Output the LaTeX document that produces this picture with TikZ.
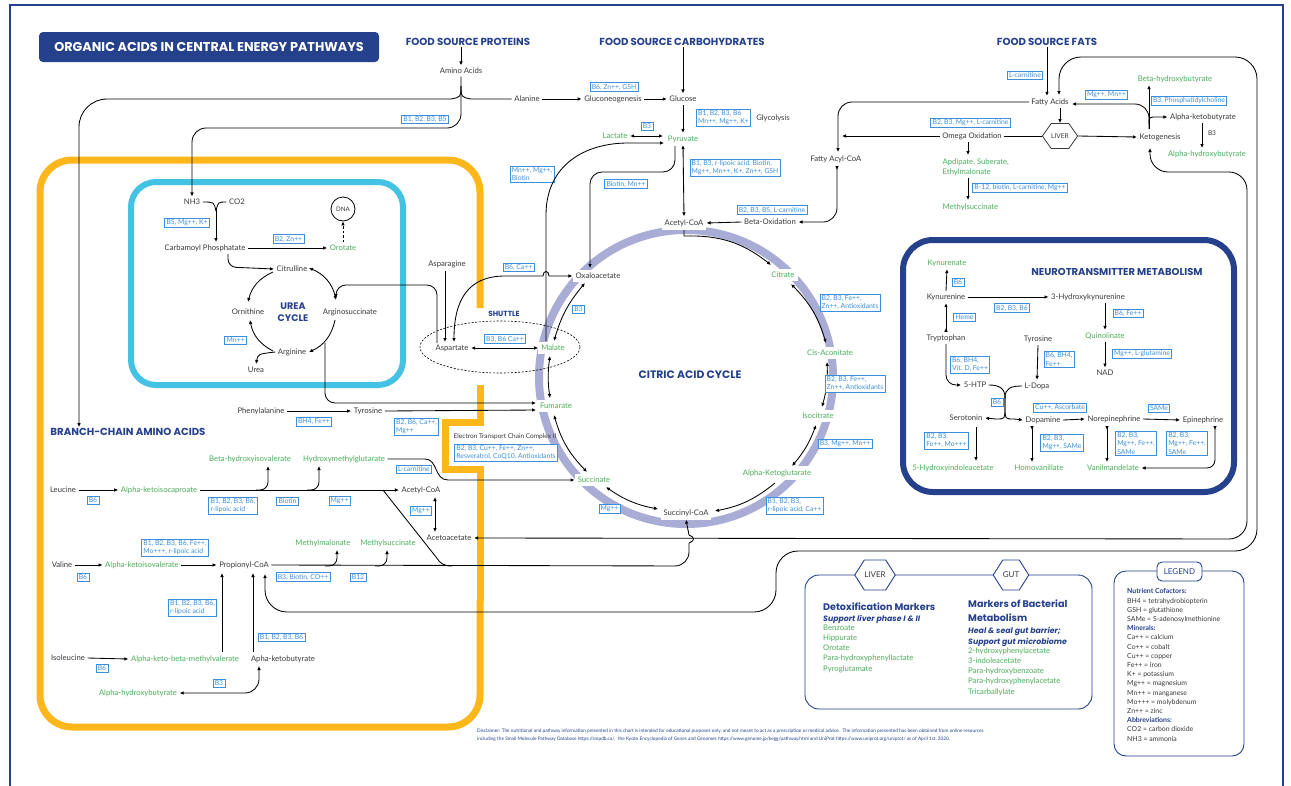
\documentclass[tikz,border=0pt]{standalone}
\usepackage{fontspec}
\setmainfont{Lato}
\newfontfamily\headfont{Poppins}
\usetikzlibrary{arrows.meta,shapes.geometric,shapes.symbols,calc}
\definecolor{dblue}{HTML}{25418B}
\definecolor{cyanb}{HTML}{44C2E4}
\definecolor{orng}{HTML}{FDB71A}
\definecolor{lav}{HTML}{A9ADD6}
\definecolor{tgreen}{HTML}{4DAE5B}
\definecolor{cblue}{HTML}{3B8FDC}
\definecolor{tgray}{HTML}{3A3A3A}
\newcommand\myfs[2]{\fontsize{#1}{#2}\selectfont}
\tikzset{
  lbl/.style={font=\myfs{7.7}{9}, text=tgray, inner sep=2.5pt},
  grn/.style={lbl, text=tgreen},
  cac/.style={grn, fill=white, inner sep=3pt},
  cacg/.style={lbl, fill=white, inner sep=3pt},
  cof/.style={draw=cblue, line width=0.7pt, text=cblue, fill=white, font=\myfs{6.8}{8.2}, inner xsep=1.8pt, inner ysep=1.4pt, align=left},
  arw/.style={-{Latex[length=4pt,width=3.6pt]}, line width=0.85pt},
  darw/.style={{Latex[length=4pt,width=3.6pt]}-{Latex[length=4pt,width=3.6pt]}, line width=0.85pt},
  rarw/.style={{Latex[reversed,length=4pt,width=3.6pt]}-{Latex[length=4pt,width=3.6pt]}, line width=0.85pt},
  ln/.style={line width=0.85pt},
  hd/.style={font=\headfont\bfseries\myfs{10.2}{12}, text=dblue, inner sep=1pt},
  sect/.style={font=\headfont\bfseries\myfs{10}{12}, text=dblue, align=center, inner sep=1pt},
  hexa/.style={draw=dblue, line width=0.9pt, fill=white, signal, signal to=west and east, signal pointer angle=115, minimum width=34, minimum height=30, inner sep=0pt, text=tgray, font=\myfs{8}{9}},
}
\begin{document}
\begin{tikzpicture}[x=1pt,y=-1pt]
\useasboundingbox (0,0) rectangle (1291,785);
\fill[white] (0,0) rectangle (1291,785);
\draw[dblue, line width=2.5] (10,5) rectangle (1283,800);
% frames
\draw[orng, line width=7, rounded corners=32] (480,308) -- (480,160) -- (40,160) -- (40,727) -- (480,727) -- (480,600);
\draw[orng, line width=7] (480,601) -- (480,469) -- (445,469) -- (445,422) -- (480,422) -- (480,385);
\draw[cyanb, line width=6, rounded corners=25] (131,182) rectangle (403,385);
\draw[dblue, line width=6, rounded corners=30] (903,240) rectangle (1234,492);
\draw[lav, line width=8] (686,377) circle[radius=147pt];

% title and headings
\node[fill=dblue, rounded corners=4, minimum width=340, minimum height=30, text=white, font=\headfont\bfseries\myfs{12.8}{14}] (title) at (209,47) {ORGANIC ACIDS IN CENTRAL ENERGY PATHWAYS};
\node[hd] (fsp) at (468,42) {FOOD SOURCE PROTEINS};
\node[hd] (fsc) at (682,42) {FOOD SOURCE CARBOHYDRATES};
\node[hd] (fsf) at (1047,42) {FOOD SOURCE FATS};
\node[hd] (bca) at (128,432) {BRANCH-CHAIN AMINO ACIDS};
\node[sect, font=\headfont\bfseries\myfs{9.5}{12}] (ucyc) at (293,312) {UREA\\CYCLE};
\node[sect, font=\headfont\bfseries\myfs{7.4}{8}] (shut) at (504,314) {SHUTTLE};
\node[sect, font=\headfont\bfseries\myfs{10.8}{12}] (cact) at (690,375) {CITRIC ACID CYCLE};
\node[sect] (neut) at (1117,272) {NEUROTRANSMITTER METABOLISM};

% proteins
\node[lbl] (amino) at (461,71) {Amino Acids};
\draw[arw] (fsp.south -| amino) -- (amino.north);
\node[lbl] (ala) at (527,99) {Alanine};
\node[lbl] (glu) at (613,99) {Gluconeogenesis};
\node[lbl] (gluc) at (683,99) {Glucose};
\node[cof] (c1) at (425,119.5) {B1, B2, B3, B5};
\node[cof] (c2) at (614,87) {B6, Zn++, GSH};
\draw[ln] (461,86) .. controls (461,97) .. (451,99);
\draw[arw, rounded corners=28] (451,99) -- (79,99) -- (bca.north -| 79,0);
\draw[ln] (461,86) .. controls (461,97) .. (471,99) -- (ala.west);
\draw[arw] (ala.east) -- (glu.west);
\draw[arw] (glu.east) -- (gluc.west);

% urea cycle
\node[lbl] (nh3) at (192,202) {NH3};
\node[lbl] (co2) at (237,202) {CO2};
\draw[arw, rounded corners=14] (amino.south) -- (461,128) -- (192,128) -- (nh3.north);
\node[lbl] (carb) at (205,248) {Carbamoyl Phosphatate};
\node[cof] (c3) at (187,222.5) {B5, Mg++, K+};
\draw[ln] (nh3.east) .. controls (214,202) .. (216,211);
\draw[ln] (co2.west) .. controls (218,202) .. (216,211);
\draw[arw] (216,210) -- (216,242);
\node[grn] (oro) at (343,248) {Orotate};
\node[cof] (c4) at (288.5,239) {B2, Zn++};
\draw[arw] (carb.east) -- (oro.west);
\node[circle, draw, line width=0.8pt, minimum size=24, inner sep=0pt, font=\myfs{6.2}{7}, text=tgray] (dna) at (343,209) {DNA};
\draw[arw, dashed, dash pattern=on 2.5pt off 2pt] (oro.north) -- (dna.south);
\node[lbl] (cit) at (292,269) {Citrulline};
\node[lbl] (orn) at (248,312) {Ornithine};
\node[lbl] (asuc) at (350,312) {Arginosuccinate};
\node[lbl] (arg) at (292,352) {Arginine};
\node[lbl] (urea) at (256,370) {Urea};
\node[cof] (c5) at (235.5,340.5) {Mn++};
\draw[arw, rounded corners=8] (228,254) -- (228,267) -- (cit.west);
\draw[arw] (273,272) to[bend right=26] (248,302);
\draw[arw] (273,351) to[bend left=26] (250,320);
\draw[arw] (335,320) to[bend left=27] (309,352);
\draw[darw] (309,268) to[bend left=28] (336,300);
\draw[arw] (arg.west) .. controls (258,354) .. (256,364);
\draw[arw, rounded corners=10] (437,343) -- (437,285) -- (336,285) -- (336,298);
\draw[arw, rounded corners=10] (325,343) -- (325,403) -- (536,403);

% shuttle
\draw[dashed, dash pattern=on 2pt off 1.6pt, line width=0.6pt] (500,347) ellipse [x radius=80pt, y radius=26pt];
\node[lbl] (asn) at (447,264) {Asparagine};
\node[lbl] (asp) at (452,348) {Aspartate};
\node[cac] (mal) at (553,348) {Malate};
\draw[arw] (445,271) -- (445,342);
\draw[darw] (asp.east) -- (mal.west);
\node[cof] (c6) at (505,339) {B3, B6 Ca++};
\node[cof] (c7) at (518.5,267.5) {B6, Ca++};

% phenylalanine
\node[lbl] (phe) at (261,411) {Phenylalanine};
\node[lbl] (tyr) at (368,411) {Tyrosine};
\node[cof] (c8) at (314,422) {BH4, Fe++};
\node[cof] (c9) at (416.5,426.5) {B2, B6, Ca++,\\Mg++};
\draw[arw] (phe.east) -- (tyr.west);
\draw[arw] (tyr.east) -- (536,410);

% carbohydrates
\node[grn] (pyr) at (683,139) {Pyruvate};
\node[grn] (lac) at (615,136) {Lactate};
\node[lbl] (glyc) at (773,118) {Glycolysis};
\draw[arw] (gluc |- fsc.south) -- (gluc.north);
\draw[arw] (gluc.south) -- (pyr.north);
\node[cof] (c10) at (723.5,117.5) {B1, B2, B3, B6\\Mn++, Mg++, K+};
\draw[darw] (lac.east) -- (663,136);
\node[cof] (c11) at (647,126) {B3};
\node[cof] (c12) at (532,174) {Mn++, Mg++,\\Biotin};
\node[cof] (c13) at (626,184) {Biotin, Mn++};
\node[cof] (c14) at (735,168) {B1, B3, r-lipoic acid, Biotin,\\Mg++, Mn++, K+, Zn++, GSH};

% citric acid cycle nodes
\node[cacg] (acoa) at (684,223) {Acetyl-CoA};
\node[cac] (citr) at (783,275) {Citrate};
\node[cac] (cis) at (830,353) {Cis-Aconitate};
\node[cac] (iso) at (818,416) {Isocitrate};
\node[cac] (akg) at (777,473) {Alpha-Ketoglutarate};
\node[cacg] (scoa) at (686,513) {Succinyl-CoA};
\node[cac] (succ) at (594,480) {Succinate};
\node[cac] (fum) at (556,406) {Fumarate};
\node[cacg] (oaa) at (598,276) {Oxaloacetate};

\draw[arw] (546,341) -- (546,215) .. controls (546,165) and (585,143) .. (628,143) -- (664,143);
\draw[arw, rounded corners=12] (675,146) -- (675,172) -- (590,172) -- (590,268);
\draw[darw] (pyr.south) -- (acoa.north);
\node[lbl] (beta) at (770,222) {Beta-Oxidation};
\draw[arw] (beta.west) -- (acoa.east);
\node[cof] (c15) at (772,210) {B2, B3, B5, L-carnitine};
\draw[darw] (454,342) .. controls (454,300) and (468,276) .. (505,276) -- (543,276) .. controls (543,270) and (549,270) .. (549,276) -- (oaa.west);

\draw[arw] (684,230) -- (684,236) to[bend left=20] (771,265);
\draw[darw] (791,284) to[bend left=14] (826,343);
\draw[darw] (827,362) to[bend left=9] (822,407);
\draw[darw] (816,425) to[bend left=10] (792,466);
\draw[arw] (775,483) to[bend left=14] (715,511);
\draw[darw] (658,509) to[bend left=12] (606,487);
\draw[darw] (587,472) to[bend left=14] (554,415);
\draw[darw] (550,398) to[bend left=8] (550,356);
\draw[darw] (554,341) to[bend left=12] (585,283);
\node[cof] (c16) at (578.5,309.5) {B3};
\node[cof] (c17) at (850,302.5) {B2, B3, Fe++,\\Zn++, Antioxidants};
\node[cof] (c18) at (855,383.5) {B2, B3, Fe++,\\Zn++, Antioxidants};
\node[cof] (c19) at (845,444) {B3, Mg++, Mn++};
\node[cof] (c20) at (794.5,505.5) {B1, B2, B3,\\r-lipoic acid, Ca++};
\node[cof] (c21) at (609.5,509) {Mg++};
\node[lbl, font=\myfs{6.5}{7.5}] (etc) at (505,437) {Electron Transport Chain Complex II};
\node[cof] (c22) at (506,452.5) {B2, B3, Cu++, Fe++, Zn++,\\Resveratrol, CoQ10, Antioxidants};

% branch chain amino acids
\node[lbl] (leu) at (63,490) {Leucine};
\node[grn] (akic) at (159,490) {Alpha-ketoisocaproate};
\node[lbl] (acoa2) at (421,490) {Acetyl-CoA};
\node[grn] (bhiv) at (250,459) {Beta-hydroxyisovalerate};
\node[grn] (hmg) at (344,459) {Hydroxymethylglutarate};
\node[lbl] (acac) at (449,538) {Acetoacetate};
\draw[arw] (leu.east) -- (akic.west);
\draw[arw] (akic.east) -- (acoa2.west);
\draw[arw, rounded corners=8] (256,490) -| (268,466);
\draw[arw, rounded corners=8] (307,490) -| (319,466);
\draw[arw] (hmg.east) -- (425,459) .. controls (438,459) and (434,480) .. (448,480) -- (succ.west);
\draw[ln] (383,490) -- (436,557) .. controls (440,563) and (443,566) .. (452,566);
\draw[darw] (435,497) -- (435,532);
\node[cof] (c23) at (93,500) {B6};
\node[cof] (c24) at (233,505.5) {B1, B2, B3, B6,\\r-lipoic acid};
\node[cof] (c25) at (287.5,501) {Biotin};
\node[cof] (c26) at (339.5,501) {Mg++};
\node[cof] (c27) at (414,469.5) {L-carnitine};
\node[cof] (c28) at (421,511) {Mg++};

\node[lbl] (val) at (62,565) {Valine};
\node[grn] (akiv) at (142,565) {Alpha-ketoisovalerate};
\node[lbl] (prop) at (244,565) {Propionyl-CoA};
\draw[arw] (val.east) -- (akiv.west);
\draw[arw] (akiv.east) -- (prop.west);
\node[cof] (c29) at (83,577) {B6};
\node[cof] (c30) at (175,548) {B1, B2, B3, B6, Fe++,\\Mo+++, r-lipoic acid};
\node[grn] (mmal) at (323,543) {Methylmalonate};
\node[grn] (msuc2) at (388,543) {Methylsuccinate};
\draw[ln, rounded corners=14] (prop.east) -- (689,566) -- (689,543);
\draw[arw] (689,543) .. controls (695,541) and (695,537) .. (689,535) -- (scoa.south);
\draw[arw, rounded corners=8] (325,566) -| (337,550);
\draw[arw, rounded corners=8] (375,566) -| (387,550);
\node[cof] (c31) at (303,577) {B3, Biotin, CO++};
\node[cof] (c32) at (358,577) {B12};

\node[lbl] (ile) at (68,658) {Isoleucine};
\node[grn] (akbmv) at (185,659) {Alpha-keto-beta-methylvalerate};
\node[lbl] (akb) at (283,659) {Apha-ketobutyrate};
\node[grn] (ahb) at (138,693) {Alpha-hydroxybutyrate};
\draw[arw] (ile.east) -- (akbmv.west);
\draw[arw] (222,652) -- (222,573);
\draw[arw] (253,652) -- (253,573);
\draw[darw, rounded corners=14] (259,666) |- (ahb.east);
\node[cof] (c33) at (102,668) {B6};
\node[cof] (c34) at (192.5,607.5) {B1, B2, B3, B6,\\r-lipoic acid};
\node[cof] (c35) at (281.5,637.5) {B1, B2, B3, B6};
\node[cof] (c36) at (219,683) {B3};

% fats
\node[lbl] (fa) at (1050,102) {Fatty Acids};
\node[cof] (c37) at (1025,75) {L-carnitine};
\draw[arw] (fsf.south) -- (fsf.south |- fa.north);
\node[draw=tgray, line width=0.8pt, fill=white, signal, signal to=west and east, signal pointer angle=110, minimum width=28, minimum height=25, inner sep=0pt, text=tgray, font=\myfs{6.6}{7}] (liver) at (1060,136) {LIVER};
\draw[arw] (liver.north |- fa.south) -- (liver.north);
\node[lbl] (omega) at (972,136) {Omega Oxidation};
\node[lbl] (facoa) at (836,159) {Fatty Acyl-CoA};
\node[lbl] (keto) at (1160,137) {Ketogenesis};
\draw[ln] (liver.west) -- (omega.east);
\draw[arw] (omega.west) -- (842,136);
\draw[arw, rounded corners=14] (fa.west) -| (838,152);
\draw[arw] (liver.east) -- (keto.west);
\draw[rarw, rounded corners=14] (837,166) |- (beta.east);
\node[cof] (c38) at (970.5,122.5) {B2, B3, Mg++, L-carnitine};
\node[grn, anchor=north west, align=left, font=\myfs{7.7}{10}] (apd) at (940,156) {Apdipate, Suberate,\\Ethylmalonate};
\node[grn, anchor=west] (msuc) at (940,207) {Methylsuccinate};
\draw[arw] (968,142) -- (968,155);
\draw[arw] (968,178) -- (968,200);
\node[cof] (c39) at (1020,187.5) {B-12, biotin, L-carnitine, Mg++};
\node[cof] (c40) at (1106.5,95) {Mg++, Mn++};
\node[grn] (bhb) at (1175,79) {Beta-hydroxybutyrate};
\node[lbl] (akb2) at (1203,117) {Alpha-ketobutyrate};
\node[grn] (ahb2) at (1207,154) {Alpha-hydroxybutyrate};
\draw[arw, rounded corners=14] (1149,129) -- (1149,104) -- (1072,104);
\draw[arw] (1149,129) -- (bhb.south -| 1149,0);
\draw[arw] (1149,124) .. controls (1149,117) .. (1157,117) -- (akb2.west);
\draw[arw] (1202,123) -- (1202,148);
\node[lbl, font=\myfs{6.5}{7}] (b3l) at (1212,133) {B3};
\node[cof] (c41) at (1189,101) {B3, Phosphatidylcholine};

% big loops
\draw[darw, rounded corners=22] (1059,95) -- (1059,57) -- (1257,57) -- (1257,551) -- (776,551) -- (776,612) -- (265,612) -- (265,574);
\draw[darw, rounded corners=18] (1150,148) -- (1150,172) -- (1247,172) -- (1247,539) -- (acac.east);

% neurotransmitters
\node[grn] (kyna) at (947,263) {Kynurenate};
\node[lbl] (kyn) at (946,297) {Kynurenine};
\node[lbl] (hk) at (1088,297) {3-Hydroxykynurenine};
\node[lbl] (trp) at (946,338) {Tryptophan};
\node[lbl] (tyrn) at (1038,339) {Tyrosine};
\node[grn] (quin) at (1105,336) {Quinolinate};
\node[lbl] (nad) at (1105,373) {NAD};
\node[lbl] (htp) at (975,385) {5-HTP};
\node[lbl] (ldopa) at (1037,386) {L-Dopa};
\node[lbl] (sero) at (966,418) {Serotonin};
\node[lbl] (dop) at (1043,420) {Dopamine};
\node[lbl] (nor) at (1114,419) {Norepinephrine};
\node[lbl] (epi) at (1203,420) {Epinephrine};
\node[grn] (hiaa) at (953,468) {5-Hydroxyindoleacetate};
\node[grn] (hva) at (1039,468) {Homovanillate};
\node[grn] (vma) at (1113,468) {Vanilmandelate};
\draw[arw] (kyn.north) -- (kyna.south);
\draw[arw] (kyn.east) -- (hk.west);
\draw[rarw] (trp.north) -- (kyn.south);
\draw[arw, rounded corners=10] (trp.south) |- (htp.west);
\draw[arw] (tyrn.south) -- (ldopa.north);
\draw[arw] (quin.north |- hk.south) -- (quin.north);
\draw[arw] (quin.south) -- (nad.north);
\draw[ln] (htp.east) .. controls (999,385) and (1005,388) .. (1005,398);
\draw[ln] (ldopa.west) .. controls (1011,386) and (1005,388) .. (1005,398);
\draw[arw] (1005,397) -- (1005,408) .. controls (1005,419) .. (996,419) -- (sero.east);
\draw[arw] (1005,397) -- (1005,408) .. controls (1005,419) .. (1014,419) -- (dop.west);
\draw[arw] (dop.east) -- (nor.west);
\draw[arw] (nor.east) -- (epi.west);
\draw[arw] (976,427) -- (976,461);
\draw[rarw] (1032,426) -- (1032,462);
\draw[rarw] (1107,426) -- (1107,462);
\draw[rarw, rounded corners=8] (1215,426) |- (vma.east);
\node[cof] (n1) at (958,282.5) {B6};
\node[cof] (n2) at (1012,308) {B2, B3, B6};
\node[cof] (n3) at (964.5,317) {Heme};
\node[cof] (n4) at (970,364.5) {B6, BH4,\\Vit. D, Fe++};
\node[cof] (n5) at (1059,359.5) {B6, BH4,\\Fe++};
\node[cof] (n6) at (1128,313.5) {B6, Fe++};
\node[cof] (n7) at (1142,353.5) {Mg++, L-glutamine};
\node[cof] (n8) at (997,402.5) {B6};
\node[cof] (n9) at (1060,407.5) {Cu++, Ascorbate};
\node[cof] (n10) at (1159,408) {SAMe};
\node[cof] (n11) at (946.5,440.5) {B2, B3,\\Fe++, Mo+++};
\node[cof] (n12) at (1062,443) {B2, B3,\\Mg++, SAMe};
\node[cof] (n13) at (1136,443.5) {B2, B3,\\Mg++, Fe++,\\SAMe};
\node[cof] (n14) at (1187,443.5) {B2, B3,\\Mg++, Fe++,\\SAMe};

% liver / gut panel
\draw[dblue, line width=0.9pt, rounded corners=14] (805,575) rectangle (1092,709);
\node[hexa] (hliv) at (875,575) {LIVER};
\node[hexa] (hgut) at (1011,575) {GUT};
\node[anchor=west, font=\headfont\bfseries\myfs{9.6}{11}, text=dblue, inner sep=0] (detox) at (823,607) {Detoxification Markers};
\node[anchor=west, font=\headfont\bfseries\itshape\myfs{7.8}{9}, text=dblue, inner sep=0] (supl) at (823,619) {Support liver phase I \& II};
\node[anchor=north west, align=left, font=\myfs{7.7}{10.2}, text=tgreen, inner sep=0] (livl) at (823,624.5) {Benzoate\\Hippurate\\Orotate\\Para-hydroxyphenyllactate\\Pyroglutamate};
\node[anchor=north west, align=left, font=\headfont\bfseries\myfs{9.6}{13.5}, text=dblue, inner sep=0] (bact) at (968,600) {Markers of Bacterial\\Metabolism};
\node[anchor=west, font=\headfont\bfseries\itshape\myfs{7.8}{9}, text=dblue, inner sep=0] (heal) at (968,631.5) {Heal \& seal gut barrier;};
\node[anchor=west, font=\headfont\bfseries\itshape\myfs{7.8}{9}, text=dblue, inner sep=0] (supg) at (968,642.5) {Support gut microbiome};
\node[anchor=north west, align=left, font=\myfs{7.7}{10.2}, text=tgreen, inner sep=0] (gutl) at (968,647.5) {2-hydroxyphenylacetate\\3-indoleacetate\\Para-hydroxybenzoate\\Para-hydroxyphenylacetate\\Tricarballylate};

% legend
\draw[dblue, line width=0.9pt, rounded corners=12] (1114,571) rectangle (1244,756);
\node[draw=dblue, line width=0.9pt, fill=white, rounded corners=5, minimum width=45, minimum height=19, inner sep=1pt, text=dblue, font=\myfs{8}{9}] (leg) at (1179.5,571.5) {LEGEND};
\node[anchor=north west, align=left, font=\myfs{6.9}{9.2}, text=tgray, inner sep=0] (legt) at (1127,588.5) {\textcolor{dblue}{\bfseries Nutrient Cofactors:}\\BH4 = tetrahydrobiopterin\\GSH = glutathione\\SAMe = S-adenosylmethionine\\\textcolor{dblue}{\bfseries Minerals:}\\Ca++ = calcium\\Co++ = cobalt\\Cu++ = copper\\Fe++ = iron\\K+ = potassium\\Mg++ = magnesium\\Mn++ = manganese\\Mo+++ = molybdenum\\Zn++ = zinc\\\textcolor{dblue}{\bfseries Abbreviations:}\\CO2 = carbon dioxide\\NH3 = ammonia};

% disclaimer
\node[anchor=west, inner sep=0, font=\myfs{4.75}{5.5}, text=dblue] (disc1) at (477,731) {Disclaimer: The nutritional and pathway information presented in this chart is intended for educational purposes only, and not meant to act as a prescription or medical advice.\ \ The information presented has been obtained from online resources};
\node[anchor=west, inner sep=0, font=\myfs{4.75}{5.5}, text=dblue] (disc2) at (477,739) {including the Small Molecule Pathway Database https://smpdb.ca/,\ \ the Kyoto Encyclopedia of Genes and Genomes https://www.genome.jp/kegg/pathway.html and UniProt https://www.uniprot.org/uniprot/ as of April 1st, 2020.};
\end{tikzpicture}
\end{document}
